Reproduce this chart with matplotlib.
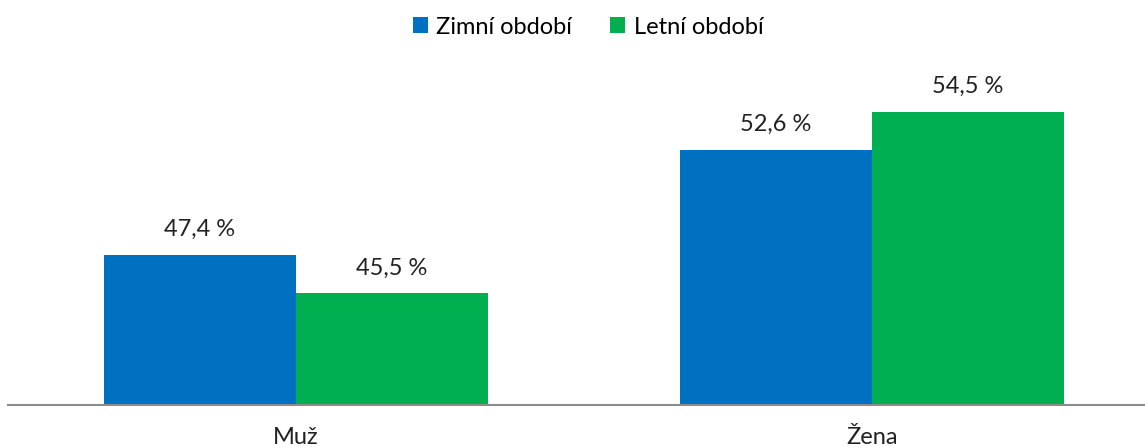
import matplotlib.pyplot as plt
import numpy as np

categories = ["Muž", "Žena"]
series_names = ["Zimní období", "Letní období"]
winter = [47.4, 52.6]
summer = [45.5, 54.5]
colors = ["#0070C0", "#00B050"]

plt.rcParams['font.family'] = ['Lato', 'DejaVu Sans']

fig = plt.figure(figsize=(11.45, 4.48), dpi=100)
ax = fig.add_axes([8 / 1145, 43.5 / 448, 1152 / 1145, 343.4 / 448])

x = np.arange(len(categories))
w = 1 / 3
for i, (vals, name) in enumerate(zip([winter, summer], series_names)):
    bars = ax.bar(x + (i - 0.5) * w, vals, width=w, color=colors[i], label=name, zorder=2)
    for b, v in zip(bars, vals):
        ax.annotate(f"{v:.1f} %".replace(".", ","), (b.get_x() + b.get_width() / 2, v),
                    xytext=(0, 15), textcoords="offset pixels",
                    ha="center", va="bottom", fontsize=17, color="#222222")

ax.set_xlim(-0.5, 1.5)
ax.set_ylim(40, 57)
ax.set_xticks(x)
ax.set_xticklabels(categories, fontsize=17, color="#222222")
ax.tick_params(axis="x", length=0, pad=16)
ax.set_yticks([])
for s in ["top", "right", "left"]:
    ax.spines[s].set_visible(False)
ax.spines["bottom"].set_color("#8c8c8c")
ax.spines["bottom"].set_linewidth(1.5)

fig.legend(loc="center", bbox_to_anchor=(588 / 1145, 1 - 27 / 448), ncol=2, frameon=False,
           fontsize=17, handlelength=0.65, handleheight=0.65, handletextpad=0.35, columnspacing=1.6)

fig.savefig("out.png", dpi=100)
